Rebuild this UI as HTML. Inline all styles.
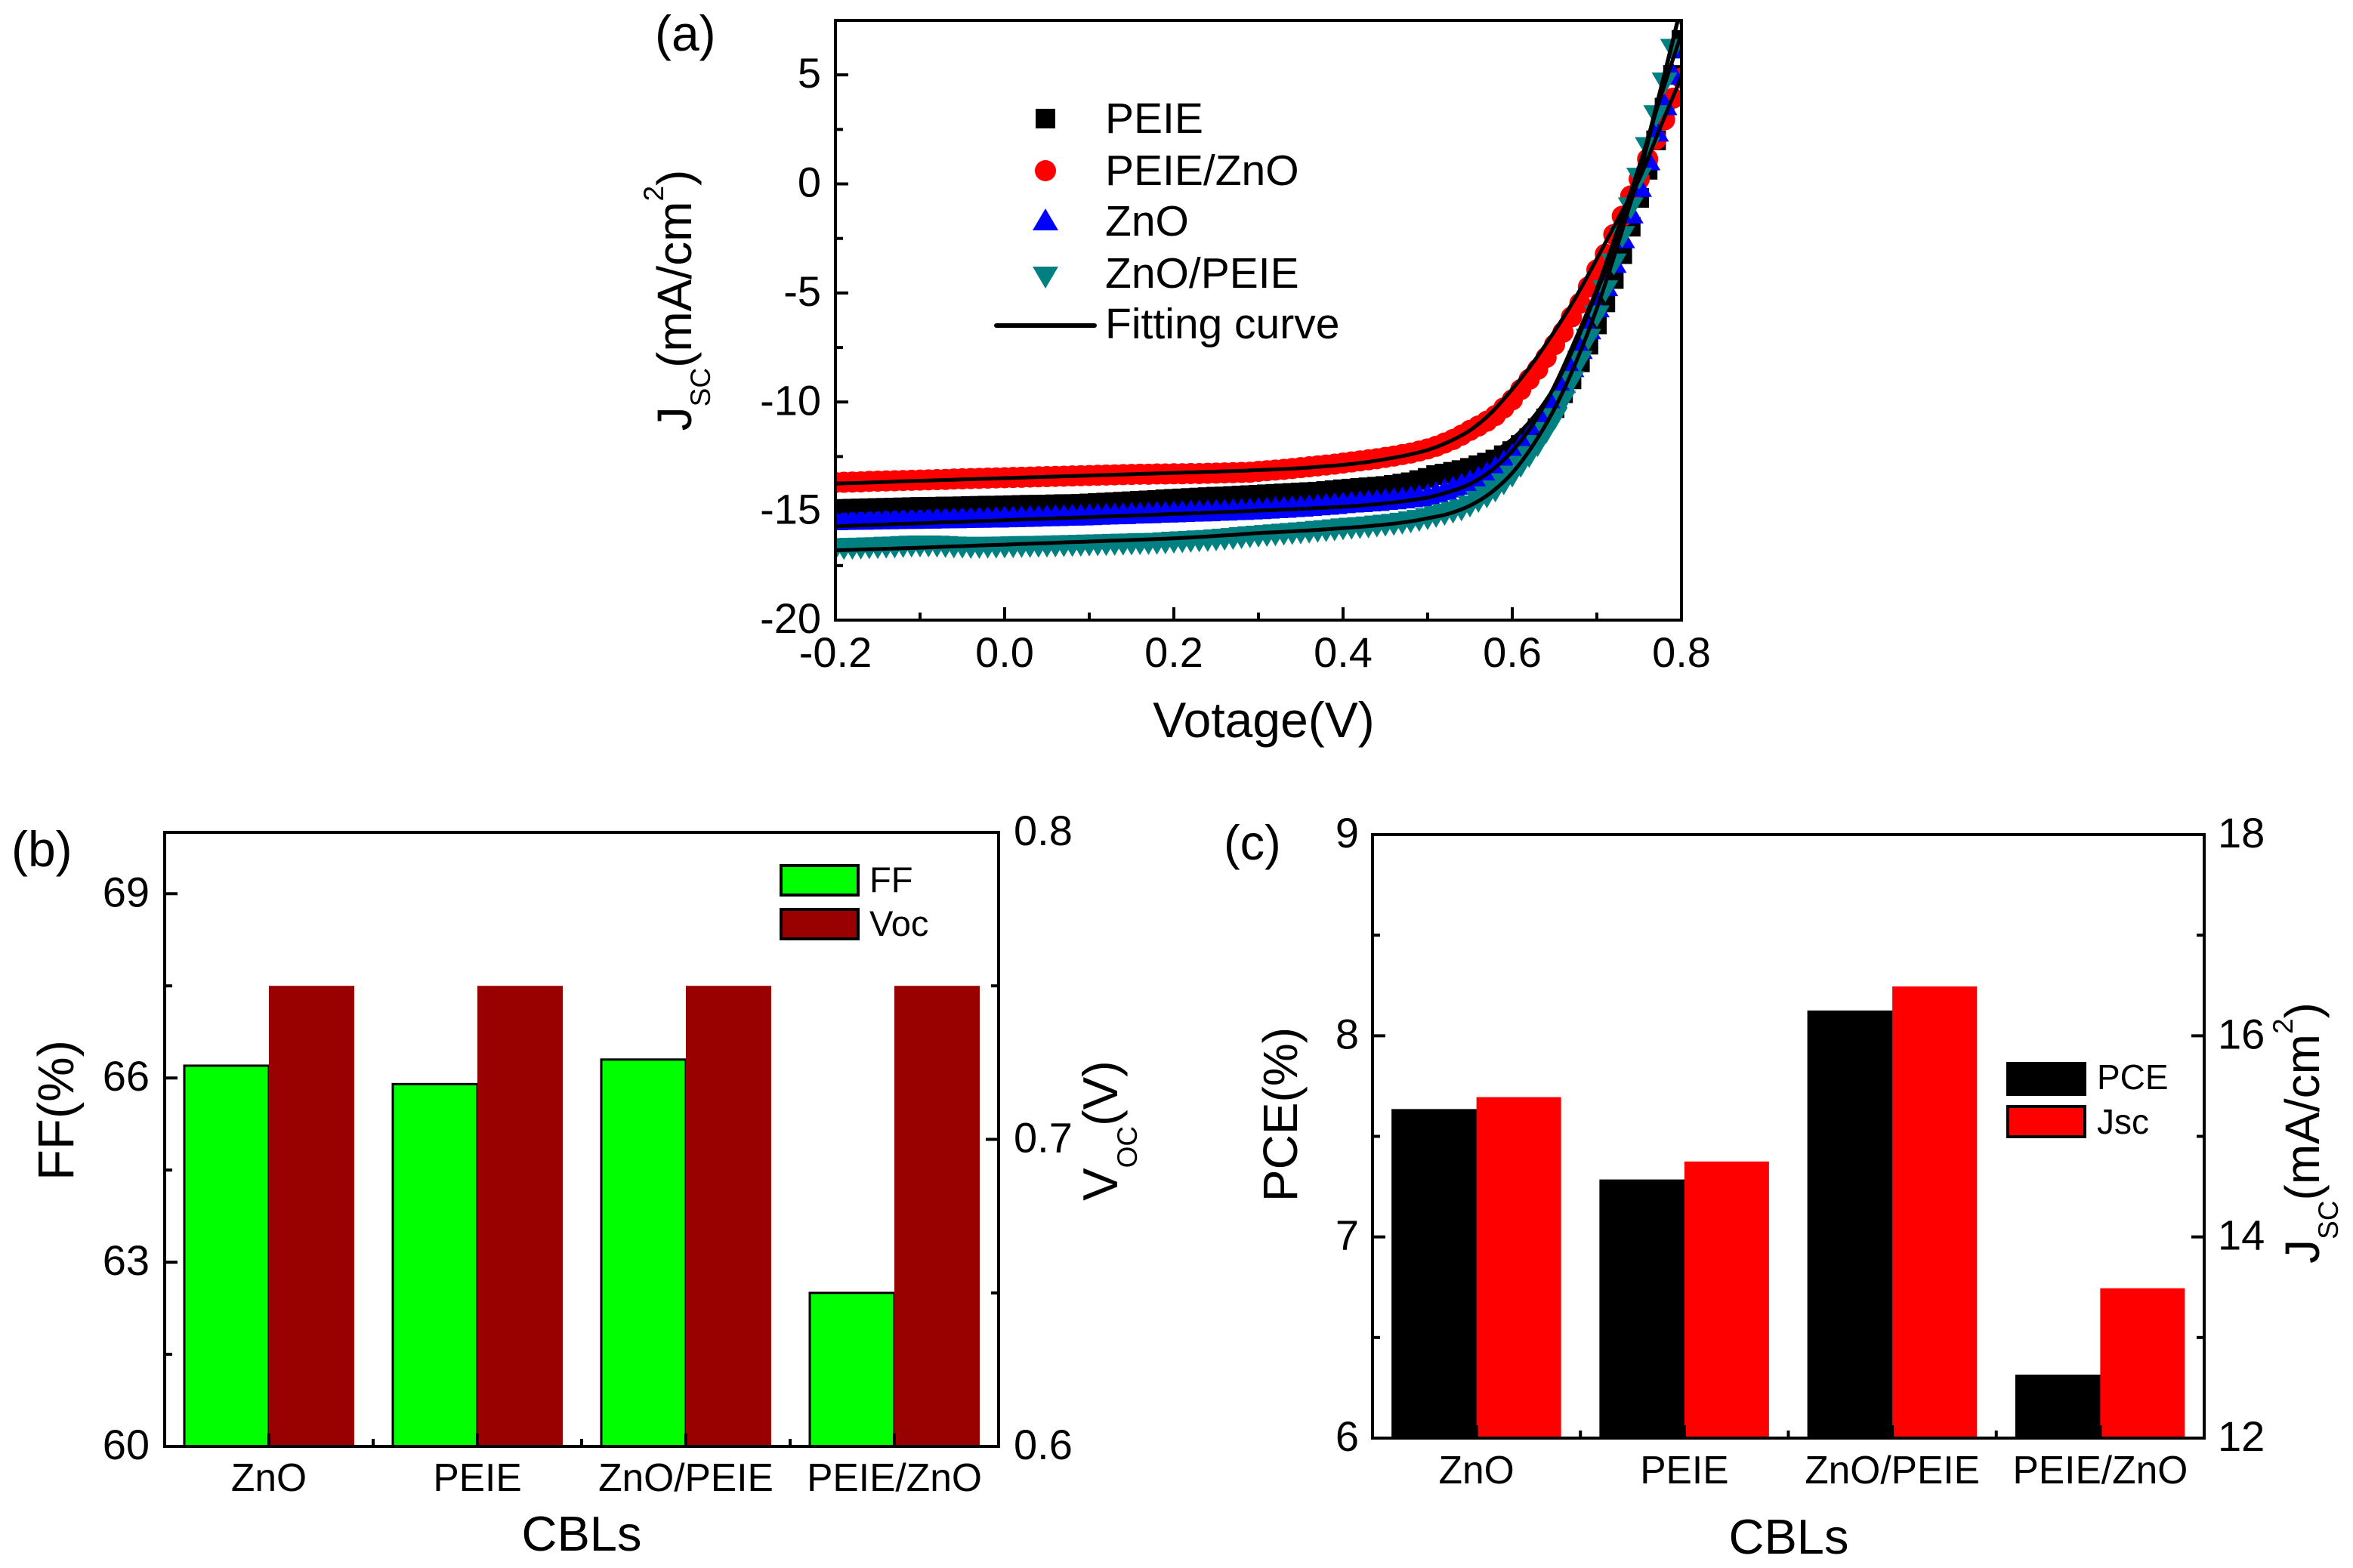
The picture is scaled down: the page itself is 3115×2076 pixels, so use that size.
<!DOCTYPE html>
<html lang="en">
<head>
<meta charset="utf-8">
<title>Solar cell J-V curves and device parameters by CBL</title>
<style>
html,body{margin:0;padding:0;background:#fff;}
svg{display:block;font-family:"Liberation Sans",Arial,sans-serif;fill:#000;}
</style>
</head>
<body>
<svg id="figure" xmlns="http://www.w3.org/2000/svg" width="3115" height="2076" viewBox="0 0 3115 2076">
<defs>
<clipPath id="clip-a"><rect x="1106" y="27" width="1120" height="794"/></clipPath>
</defs>
<rect x="0" y="0" width="3115" height="2076" fill="#fff"/>
<g id="panel-a"></g>
<g id="panel-b"></g>
<g id="panel-c"></g>

<!-- panel labels and axis titles -->
<text x="867" y="67" font-size="66">(a)</text>
<text x="15" y="1147" font-size="66">(b)</text>
<text x="1620" y="1138" font-size="65">(c)</text>

<text x="1673" y="976" font-size="66" text-anchor="middle">Votage(V)</text>
<text transform="translate(915,397.5) rotate(-90)" font-size="64" text-anchor="middle">J<tspan font-size="37" dy="25">SC</tspan><tspan dy="-25">(mA/cm</tspan><tspan font-size="37" dy="-37">2</tspan><tspan dy="37">)</tspan></text>

<text x="770" y="2053" font-size="65" text-anchor="middle">CBLs</text>
<text transform="translate(97,1470) rotate(-90)" font-size="67" text-anchor="middle">FF(%)</text>
<text transform="translate(1479,1497) rotate(-90)" font-size="65" text-anchor="middle">V<tspan font-size="37" dy="26">OC</tspan><tspan dy="-26">(V)</tspan></text>

<text x="2368" y="2057" font-size="65" text-anchor="middle">CBLs</text>
<text transform="translate(1717,1475.5) rotate(-90)" font-size="64" text-anchor="middle">PCE(%)</text>
<text transform="translate(3070,1500) rotate(-90)" font-size="64" text-anchor="middle">J<tspan font-size="37" dy="25">SC</tspan><tspan dy="-25">(mA/cm</tspan><tspan font-size="37" dy="-35">2</tspan><tspan dy="35">)</tspan></text>

<!-- legend panel a -->
<g>
  <rect x="1371" y="144" width="26" height="26" fill="#000"/>
  <text x="1463" y="176" font-size="57">PEIE</text>
  <circle cx="1384" cy="226" r="14" fill="#f00"/>
  <text x="1463" y="245" font-size="57">PEIE/ZnO</text>
  <polygon points="1384,276 1401,305 1367,305" fill="#00f"/>
  <text x="1463" y="312" font-size="57">ZnO</text>
  <polygon points="1367,353 1401,353 1384,382" fill="#008080"/>
  <text x="1463" y="381" font-size="57">ZnO/PEIE</text>
  <line x1="1319" y1="431" x2="1449" y2="431" stroke="#000" stroke-width="6" stroke-linecap="round"/>
  <text x="1463" y="448" font-size="57">Fitting curve</text>
</g>

<!-- legend panel b -->
<g>
  <rect x="1034" y="1146" width="102" height="39" fill="#0f0" stroke="#000" stroke-width="4"/>
  <text x="1151" y="1181" font-size="47">FF</text>
  <rect x="1034" y="1204" width="102" height="39" fill="#990000" stroke="#000" stroke-width="4"/>
  <text x="1151" y="1239" font-size="47">Voc</text>
</g>

<!-- legend panel c -->
<g>
  <rect x="2658" y="1408" width="102" height="41" fill="#000" stroke="#000" stroke-width="4"/>
  <text x="2776" y="1442" font-size="46">PCE</text>
  <rect x="2658" y="1465" width="102" height="40" fill="#f00" stroke="#000" stroke-width="4"/>
  <text x="2776" y="1501" font-size="46">Jsc</text>
</g>
</svg>

<script>
/* ---------- panel (a): J-V data ---------- */
const voltages = [
-0.20,-0.19,-0.18,-0.17,-0.16,-0.15,-0.14,-0.13,-0.12,-0.11,
-0.10,-0.09,-0.08,-0.07,-0.06,-0.05,-0.04,-0.03,-0.02,-0.01,
0.00,0.01,0.02,0.03,0.04,0.05,0.06,0.07,0.08,0.09,
0.10,0.11,0.12,0.13,0.14,0.15,0.16,0.17,0.18,0.19,
0.20,0.21,0.22,0.23,0.24,0.25,0.26,0.27,0.28,0.29,
0.30,0.31,0.32,0.33,0.34,0.35,0.36,0.37,0.38,0.39,
0.40,0.41,0.42,0.43,0.44,0.45,0.46,0.47,0.48,0.49,
0.50,0.51,0.52,0.53,0.54,0.55,0.56,0.57,0.58,0.59,
0.60,0.61,0.62,0.63,0.64,0.65,0.66,0.67,0.68,0.69,
0.70,0.71,0.72,0.73,0.74,0.75,0.76,0.77,0.78,0.79,
0.80];
const peieJ = [
-14.91,-14.9,-14.89,-14.88,-14.87,-14.86,-14.85,-14.84,-14.83,-14.82,
-14.81,-14.81,-14.8,-14.79,-14.79,-14.78,-14.77,-14.76,-14.75,-14.75,
-14.74,-14.73,-14.72,-14.71,-14.71,-14.7,-14.69,-14.68,-14.68,-14.67,
-14.65,-14.63,-14.61,-14.59,-14.57,-14.55,-14.53,-14.51,-14.49,-14.46,
-14.44,-14.42,-14.4,-14.38,-14.36,-14.34,-14.33,-14.31,-14.29,-14.27,
-14.25,-14.23,-14.21,-14.19,-14.17,-14.15,-14.13,-14.11,-14.08,-14.04,
-14.0,-13.97,-13.94,-13.91,-13.88,-13.85,-13.8,-13.74,-13.68,-13.58,
-13.48,-13.35,-13.28,-13.2,-13.12,-13.02,-12.9,-12.78,-12.64,-12.44,
-12.25,-11.97,-11.66,-11.2,-10.75,-10.28,-9.6,-8.96,-8.18,-7.37,
-6.44,-5.43,-4.36,-3.22,-1.96,-0.64,0.65,2.0,3.5,5.0,
6.6];
const peieZnoJ = [
-13.69,-13.68,-13.67,-13.66,-13.64,-13.63,-13.62,-13.61,-13.6,-13.59,
-13.58,-13.57,-13.56,-13.55,-13.53,-13.52,-13.51,-13.5,-13.49,-13.48,
-13.47,-13.46,-13.45,-13.44,-13.43,-13.42,-13.41,-13.4,-13.39,-13.38,
-13.37,-13.36,-13.35,-13.34,-13.33,-13.32,-13.31,-13.31,-13.3,-13.3,
-13.29,-13.29,-13.28,-13.28,-13.27,-13.26,-13.25,-13.24,-13.23,-13.22,
-13.18,-13.15,-13.12,-13.09,-13.05,-13.01,-12.97,-12.93,-12.89,-12.85,
-12.8,-12.75,-12.7,-12.65,-12.6,-12.54,-12.48,-12.41,-12.34,-12.25,
-12.15,-12.03,-11.88,-11.72,-11.52,-11.3,-11.1,-10.88,-10.62,-10.27,
-9.9,-9.43,-8.96,-8.5,-7.96,-7.37,-6.8,-6.1,-5.47,-4.72,
-3.94,-3.22,-2.32,-1.48,-0.55,0.22,1.14,2.05,2.94,3.93,
4.85];
const znoJ = [
-15.53,-15.52,-15.51,-15.51,-15.5,-15.49,-15.49,-15.48,-15.47,-15.47,
-15.46,-15.46,-15.45,-15.44,-15.44,-15.43,-15.42,-15.42,-15.41,-15.41,
-15.4,-15.39,-15.38,-15.37,-15.36,-15.35,-15.34,-15.33,-15.32,-15.31,
-15.3,-15.28,-15.27,-15.26,-15.25,-15.23,-15.22,-15.21,-15.19,-15.18,
-15.17,-15.15,-15.14,-15.13,-15.12,-15.1,-15.09,-15.07,-15.06,-15.04,
-15.02,-15.0,-14.98,-14.96,-14.93,-14.91,-14.88,-14.85,-14.82,-14.79,
-14.75,-14.72,-14.7,-14.67,-14.65,-14.6,-14.57,-14.53,-14.48,-14.43,
-14.38,-14.27,-14.15,-14.03,-13.9,-13.75,-13.58,-13.38,-13.12,-12.85,
-12.53,-12.1,-11.65,-11.1,-10.55,-9.93,-9.24,-8.51,-7.68,-6.78,
-5.77,-4.8,-3.73,-2.6,-1.46,-0.25,0.97,2.29,3.5,4.9,
6.1];
const znoPeieJ = [
-16.63,-16.62,-16.61,-16.6,-16.59,-16.58,-16.56,-16.55,-16.53,-16.51,
-16.5,-16.5,-16.51,-16.53,-16.55,-16.56,-16.57,-16.57,-16.56,-16.56,
-16.55,-16.54,-16.53,-16.53,-16.52,-16.51,-16.5,-16.49,-16.48,-16.47,
-16.46,-16.45,-16.44,-16.43,-16.42,-16.41,-16.4,-16.39,-16.38,-16.36,
-16.33,-16.31,-16.29,-16.27,-16.25,-16.22,-16.19,-16.16,-16.12,-16.08,
-16.05,-16.02,-15.99,-15.96,-15.93,-15.9,-15.87,-15.83,-15.8,-15.76,
-15.72,-15.69,-15.66,-15.63,-15.59,-15.55,-15.51,-15.46,-15.4,-15.33,
-15.25,-15.15,-15.05,-14.95,-14.85,-14.67,-14.46,-14.25,-13.98,-13.65,
-13.3,-12.85,-12.4,-11.9,-11.3,-10.66,-9.86,-8.96,-8.03,-7.02,
-5.95,-4.8,-3.57,-2.31,-1.0,0.36,1.77,3.23,4.73,6.27,
7.8];

const fitVoltages = [
-0.2,-0.175,-0.15,-0.125,-0.1,-0.075,-0.05,-0.025,0,0.025,0.05,0.075,0.1,0.125,
0.15,0.175,0.2,0.225,0.25,0.275,0.3,0.325,0.35,0.375,0.4,0.425,0.45,0.475,
0.5,0.525,0.55,0.575,0.6,0.625,0.65,0.675,0.7,0.725,0.75,0.775,0.8];
const fitPeie = [
-15.0,-14.96,-14.93,-14.89,-14.86,-14.82,-14.79,-14.75,-14.72,-14.68,-14.65,-14.61,-14.58,-14.54,
-14.5,-14.47,-14.43,-14.39,-14.35,-14.31,-14.27,-14.22,-14.17,-14.11,-14.05,-13.97,-13.87,-13.73,
-13.52,-13.22,-12.85,-12.35,-11.7,-10.7,-9.3,-7.3,-4.95,-2.5,0.4,4.2,8.2];
const fitPeieZno = [
-13.74,-13.71,-13.68,-13.64,-13.61,-13.58,-13.55,-13.52,-13.49,-13.46,-13.43,-13.4,-13.37,-13.34,
-13.31,-13.28,-13.25,-13.22,-13.19,-13.16,-13.12,-13.08,-13.03,-12.96,-12.88,-12.77,-12.62,-12.44,
-12.2,-11.82,-11.3,-10.5,-9.41,-8.17,-6.75,-5.2,-3.43,-1.6,0.22,2.6,4.93];
const fitZno = [
-15.7,-15.66,-15.63,-15.59,-15.56,-15.52,-15.49,-15.45,-15.42,-15.38,-15.35,-15.31,-15.28,-15.24,
-15.21,-15.17,-15.13,-15.1,-15.06,-15.02,-14.98,-14.94,-14.9,-14.85,-14.8,-14.73,-14.65,-14.53,
-14.38,-14.12,-13.76,-13.15,-12.25,-10.98,-9.25,-7.1,-4.8,-2.05,0.8,3.95,6.9];
const fitZnoPeie = [
-16.8,-16.77,-16.74,-16.71,-16.68,-16.64,-16.61,-16.57,-16.54,-16.5,-16.47,-16.43,-16.4,-16.36,
-16.33,-16.29,-16.25,-16.2,-16.14,-16.08,-16.01,-15.96,-15.91,-15.85,-15.78,-15.71,-15.62,-15.5,
-15.33,-15.12,-14.75,-14.15,-13.25,-11.95,-10.3,-8.2,-5.7,-2.75,0.55,4.3,8.2];

const aXMajorTicks = [-0.2,0,0.2,0.4,0.6,0.8];
const aXMajorLabels = ["-0.2","0.0","0.2","0.4","0.6","0.8"];
const aXMinorTicks = [-0.1,0.1,0.3,0.5,0.7];
const aYMajorTicks = [-20,-15,-10,-5,0,5];
const aYMajorLabels = ["-20","-15","-10","-5","0","5"];
const aYMinorTicks = [-17.5,-12.5,-7.5,-2.5,2.5];

/* ---------- panel (b) data ---------- */
const cblCategories = ["ZnO","PEIE","ZnO/PEIE","PEIE/ZnO"];
const ffValues = [66.2,65.9,66.3,62.5];
const vocValues = [0.75,0.75,0.75,0.75];
const ffMajorTicks = [60,63,66,69];
const ffMinorTicks = [61.5,64.5,67.5];
const vocMajorTicks = [0.6,0.7,0.8];
const vocMajorLabels = ["0.6","0.7","0.8"];
const vocMinorTicks = [0.65,0.75];

/* ---------- panel (c) data ---------- */
const pceValues = [7.63,7.28,8.12,6.31];
const jscValues = [15.39,14.75,16.49,13.49];
const pceMajorTicks = [6,7,8,9];
const pceMinorTicks = [6.5,7.5,8.5];
const jscMajorTicks = [12,14,16,18];
const jscMinorTicks = [13,15,17];

const SVG_NS = "http://www.w3.org/2000/svg";
const AXIS_W = 4, MAJOR_LEN = 17, MINOR_LEN = 10, TICK_FONT = 56, TICK_DY = 17;

function linear(d0, d1, r0, r1) {
  return function (v) { return r0 + (v - d0) / (d1 - d0) * (r1 - r0); };
}
function make(parent, tag, attrs, name) {
  const el = document.createElementNS(SVG_NS, tag);
  for (const k in attrs) el.setAttribute(k, attrs[k]);
  
  
  parent.appendChild(el);
  return el;
}
function label(parent, x, y, str, anchor, size, name) {
  const t = make(parent, "text", { x: x, y: y, "text-anchor": anchor, "font-size": size }, name);
  t.textContent = str;
  return t;
}
function tick(parent, x1, y1, x2, y2, name) {
  make(parent, "line", { x1: x1, y1: y1, x2: x2, y2: y2, stroke: "#000", "stroke-width": AXIS_W }, name);
}
function frame(parent, L, T, R, B, name) {
  make(parent, "rect", { x: L, y: T, width: R - L, height: B - T, fill: "none", stroke: "#000", "stroke-width": AXIS_W }, name);
}
function yTicksLeft(parent, L, scale, major, labels, minor, labelX, prefix) {
  major.forEach(function (v, i) {
    tick(parent, L, scale(v), L + MAJOR_LEN, scale(v), prefix + "-major-tick");
    label(parent, labelX, scale(v) + TICK_DY, labels[i], "end", TICK_FONT, prefix + "-tick-label");
  });
  minor.forEach(function (v) {
    tick(parent, L, scale(v), L + MINOR_LEN, scale(v), prefix + "-minor-tick");
  });
}
function yTicksRight(parent, R, scale, major, labels, minor, labelX, prefix) {
  major.forEach(function (v, i) {
    tick(parent, R, scale(v), R - MAJOR_LEN, scale(v), prefix + "-major-tick");
    label(parent, labelX, scale(v) + TICK_DY, labels[i], "start", TICK_FONT, prefix + "-tick-label");
  });
  minor.forEach(function (v) {
    tick(parent, R, scale(v), R - MINOR_LEN, scale(v), prefix + "-minor-tick");
  });
}
function smoothPath(xs, ys) {
  let d = "M" + xs[0].toFixed(2) + " " + ys[0].toFixed(2);
  for (let i = 0; i < xs.length - 1; i++) {
    const p0 = Math.max(i - 1, 0), p3 = Math.min(i + 2, xs.length - 1);
    const c1x = xs[i] + (xs[i + 1] - xs[p0]) / 6, c1y = ys[i] + (ys[i + 1] - ys[p0]) / 6;
    const c2x = xs[i + 1] - (xs[p3] - xs[i]) / 6, c2y = ys[i + 1] - (ys[p3] - ys[i]) / 6;
    d += "C" + c1x.toFixed(2) + " " + c1y.toFixed(2) + " " + c2x.toFixed(2) + " " + c2y.toFixed(2) + " " + xs[i + 1].toFixed(2) + " " + ys[i + 1].toFixed(2);
  }
  return d;
}

/* ---------- draw panel (a) ---------- */
(function () {
  const g = document.getElementById("panel-a");
  const L = 1106, R = 2226, T = 27, B = 821;
  const x = linear(-0.2, 0.8, L, R);
  const y = linear(-20, 7.5, B, T);
  const plot = make(g, "g", { "clip-path": "url(#clip-a)" }, "plot-area-a");

  const sq = make(plot, "g", { fill: "#000" }, "series-peie");
  voltages.forEach(function (v, i) {
    make(sq, "rect", { x: x(v) - 13, y: y(peieJ[i]) - 13, width: 26, height: 26 }, "point-peie");
  });
  const ci = make(plot, "g", { fill: "#f00" }, "series-peie-zno");
  voltages.forEach(function (v, i) {
    make(ci, "circle", { cx: x(v), cy: y(peieZnoJ[i]), r: 14 }, "point-peie-zno");
  });
  const up = make(plot, "g", { fill: "#00f" }, "series-zno");
  voltages.forEach(function (v, i) {
    const px = x(v), py = y(znoJ[i]);
    make(up, "polygon", { points: px + "," + (py - 19) + " " + (px + 17) + "," + (py + 10) + " " + (px - 17) + "," + (py + 10) }, "point-zno");
  });
  const dn = make(plot, "g", { fill: "#008080" }, "series-zno-peie");
  voltages.forEach(function (v, i) {
    const px = x(v), py = y(znoPeieJ[i]);
    make(dn, "polygon", { points: (px - 17) + "," + (py - 11) + " " + (px + 17) + "," + (py - 11) + " " + px + "," + (py + 18) }, "point-zno-peie");
  });

  const fx = fitVoltages.map(x);
  [[fitPeie, "fit-curve-peie"], [fitPeieZno, "fit-curve-peie-zno"], [fitZno, "fit-curve-zno"], [fitZnoPeie, "fit-curve-zno-peie"]].forEach(function (f) {
    make(plot, "path", { d: smoothPath(fx, f[0].map(y)), fill: "none", stroke: "#000", "stroke-width": 5 }, f[1]);
  });

  frame(g, L, T, R, B, "plot-frame-a");
  aXMajorTicks.forEach(function (v, i) {
    tick(g, x(v), B, x(v), B - MAJOR_LEN, "x-major-tick-a");
    label(g, x(v), 883, aXMajorLabels[i], "middle", TICK_FONT, "x-tick-label-a");
  });
  aXMinorTicks.forEach(function (v) {
    tick(g, x(v), B, x(v), B - MINOR_LEN, "x-minor-tick-a");
  });
  yTicksLeft(g, L, y, aYMajorTicks, aYMajorLabels, aYMinorTicks, 1087, "y-a");
})();

/* ---------- bar panels ---------- */
function barPanel(g, o) {
  const n = cblCategories.length;
  const step = (o.R - o.L) / n;
  const center = function (i) { return o.L + step * (i + 0.5); };
  const yL = linear(o.leftDomain[0], o.leftDomain[1], o.B, o.T);
  const yR = linear(o.rightDomain[0], o.rightDomain[1], o.B, o.T);
  cblCategories.forEach(function (c, i) {
    const cx = center(i);
    make(g, "rect", { x: cx - o.barW, y: yL(o.leftValues[i]), width: o.barW, height: o.B - yL(o.leftValues[i]), fill: o.leftFill, stroke: "#000", "stroke-width": 3 }, "bar-" + o.leftName);
    make(g, "rect", { x: cx, y: yR(o.rightValues[i]), width: o.barW + 1, height: o.B - yR(o.rightValues[i]), fill: o.rightFill }, "bar-" + o.rightName);
  });
  frame(g, o.L, o.T, o.R, o.B, "plot-frame-" + o.id);
  cblCategories.forEach(function (c, i) {
    const cx = center(i);
    tick(g, cx, o.B, cx, o.B - MAJOR_LEN, "x-major-tick-" + o.id);
    label(g, cx, o.catBase, c, "middle", o.catFont, "x-tick-label-" + o.id);
    if (i > 0) tick(g, o.L + step * i, o.B, o.L + step * i, o.B - MINOR_LEN, "x-minor-tick-" + o.id);
  });
  yTicksLeft(g, o.L, yL, o.leftMajor, o.leftLabels, o.leftMinor, o.leftLabelX, "y-left-" + o.id);
  yTicksRight(g, o.R, yR, o.rightMajor, o.rightLabels, o.rightMinor, o.rightLabelX, "y-right-" + o.id);
}

barPanel(document.getElementById("panel-b"), {
  id: "b", L: 218, R: 1322, T: 1102, B: 1915, barW: 112,
  leftDomain: [60, 70], rightDomain: [0.6, 0.8],
  leftValues: ffValues, rightValues: vocValues,
  leftFill: "#00ff00", rightFill: "#990000",
  leftName: "ff", rightName: "voc",
  leftMajor: ffMajorTicks, leftLabels: ffMajorTicks.map(String), leftMinor: ffMinorTicks,
  rightMajor: vocMajorTicks, rightLabels: vocMajorLabels, rightMinor: vocMinorTicks,
  leftLabelX: 198, rightLabelX: 1342, catBase: 1974, catFont: 51.5
});

barPanel(document.getElementById("panel-c"), {
  id: "c", L: 1817, R: 2918, T: 1105, B: 1904, barW: 111,
  leftDomain: [6, 9], rightDomain: [12, 18],
  leftValues: pceValues, rightValues: jscValues,
  leftFill: "#000000", rightFill: "#ff0000",
  leftName: "pce", rightName: "jsc",
  leftMajor: pceMajorTicks, leftLabels: pceMajorTicks.map(String), leftMinor: pceMinorTicks,
  rightMajor: jscMajorTicks, rightLabels: jscMajorTicks.map(String), rightMinor: jscMinorTicks,
  leftLabelX: 1799, rightLabelX: 2936, catBase: 1964, catFont: 51.5
});
</script>
</body>
</html>
